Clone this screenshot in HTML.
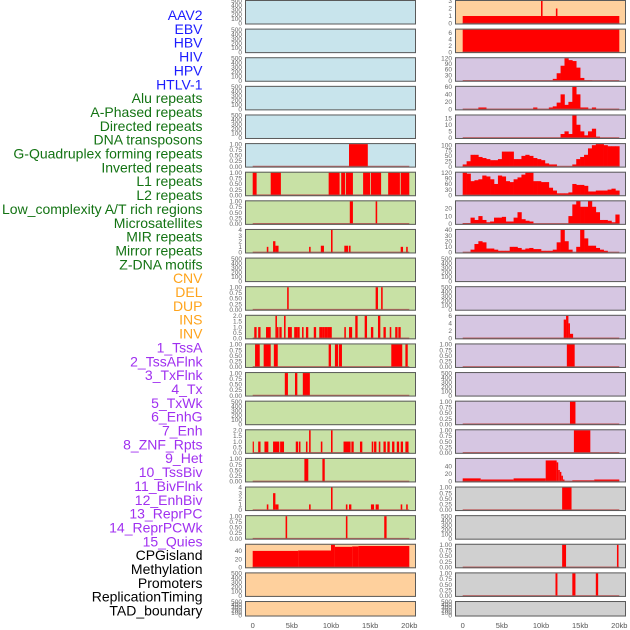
<!DOCTYPE html>
<html><head><meta charset="utf-8"><style>
html,body{margin:0;padding:0;background:#fff;}
svg{display:block;}
</style></head><body>
<svg id="chart" width="630" height="630" xmlns="http://www.w3.org/2000/svg" font-family="Liberation Sans, sans-serif">
<g id="labels"></g>
<g id="panels"></g>
<g id="xaxis"></g>
</svg>
<script>
// ---- labels ----
const trackLabels = ["AAV2","EBV","HBV","HIV","HPV","HTLV-1","Alu repeats","A-Phased repeats","Directed repeats","DNA transposons","G-Quadruplex forming repeats","Inverted repeats","L1 repeats","L2 repeats","Low_complexity A/T rich regions","Microsatellites","MIR repeats","Mirror repeats","Z-DNA motifs","CNV","DEL","DUP","INS","INV","1_TssA","2_TssAFlnk","3_TxFlnk","4_Tx","5_TxWk","6_EnhG","7_Enh","8_ZNF_Rpts","9_Het","10_TssBiv","11_BivFlnk","12_EnhBiv","13_ReprPC","14_ReprPCWk","15_Quies","CPGisland","Methylation","Promoters","ReplicationTiming","TAD_boundary"];
const labelGroupSizes = [6,13,5,15,5];
const labelGroupColors = ["#1c1cff","#137313","#ffa41c","#a030f0","#000000"];
const xTickValues = [0,5,10,15,20];
const xTickLabels = ["0","5kb","10kb","15kb","20kb"];

// ---- series (segments: [startKb, endKb, value]; bins: 0.5kb width) ----
const L5_segs = [[12.3,14.7,1]];
const L6_segs = [[0,0.5,1],[2.3,3.6,1],[9.7,11.1,1],[11.3,11.8,1],[11.9,12.8,1],[14.1,15.0,1],[15.1,16.4,1],[17.3,18.8,1],[18.9,20,1]];
const L7_segs = [[12.4,12.8,1],[15.7,15.9,1]];
const L8_segs = [[1.8,2.0,1],[2.6,2.9,2],[2.9,3.3,1.2],[7.2,7.4,1],[8.7,9.1,1.2],[10.0,10.2,4],[11.7,12.2,1.2],[12.3,12.5,1.2],[18.9,19.2,1],[19.6,19.8,1]];
const L10_segs = [[4.4,4.6,1],[15.7,16.0,1],[16.4,16.6,1]];
const L11_segs = [[0.2,0.5,1],[0.7,1.0,1],[1.7,2.3,1],[2.9,3.1,2],[3.1,3.3,1],[3.4,3.7,1],[4.0,4.2,2],[4.5,5.0,1],[5.3,5.7,1],[5.7,6.0,1],[6.3,6.5,1],[6.8,7.1,1],[7.8,8.1,1],[8.5,8.9,1],[8.9,9.2,1],[9.2,9.5,1],[9.5,10.1,1],[11.7,11.9,1],[12.3,12.7,1],[13.1,13.4,2],[14.3,14.6,2],[15.1,15.4,1],[16.0,16.3,2],[16.7,17.0,1],[17.5,17.7,1],[18.2,18.5,1],[18.6,18.9,1]];
const L12_segs = [[0.3,0.9,1],[1.4,2.3,1],[2.7,3.2,1],[9.7,10.0,1],[10.5,10.9,1],[11.0,11.4,1],[17.7,19.1,1],[19.5,19.8,1]];
const L13_segs = [[4.1,4.5,1],[5.4,5.7,1],[6.4,7.3,1]];
const L15_segs = [[0,0.1,1],[0.7,1.0,1],[1.5,2.0,1],[2.6,3.4,1],[3.5,4.0,1],[5.5,5.8,1],[5.9,6.1,1],[6.8,7.0,1],[7.2,7.4,2],[8.7,8.9,1],[10.0,10.2,2],[11.6,12.5,1],[12.6,12.9,1],[13.7,14.0,1],[15.2,15.4,1],[15.5,15.8,1],[16.1,16.3,1],[16.7,17.0,1],[17.2,17.5,1],[17.8,18.1,1],[18.4,18.7,1],[18.9,19.2,1],[19.5,19.9,1]];
const L16_segs = [[6.6,7.1,1],[8.9,9.2,1]];
const L17_segs = [[1.8,2.0,1],[2.6,2.9,3],[2.9,3.3,1],[7.2,7.4,1],[10.0,10.2,4],[11.9,12.1,1],[12.3,12.6,1],[15.1,15.5,1],[15.7,16.1,1],[18.9,19.1,1],[19.6,19.8,1]];
const L18_segs = [[4.2,4.4,1],[11.9,12.1,1],[16.8,17.1,1]];
const L19_segs = [[0,5.8,40],[5.8,10.0,41],[10.0,10.5,55],[10.5,12.7,50],[12.7,13.5,51],[13.5,20,52]];

const R0_segs = [[0,20,1],[10.0,10.2,3],[11.9,12.1,2]];
const R1_segs = [[0,20,7]];
const R2_bins = [0,0,0,0,0,0,0,0,0,0,0,0,0,0,0,0,0,0,0,0,0,0,0,10,40,80,120,110,105,70,15,3,3,0,0,0,0,0,0,0];
const R3_bins = [0,0,0,0,5,5,0,0,0,0,0,0,0,0,0,0,0,0,5,0,0,0,5,8,18,40,12,20,60,40,5,5,0,5,0,0,0,0,0,0];
const R4_bins = [0,0,0,0,0,0,0,0,0,0,0,0,0,0,0,0,0,0,0,0,0,0,0,0,0,3,5,3,17,10,5,2,5,7,1,0,0,0,0,0];
const R5_bins = [10,25,55,55,45,40,35,30,30,35,70,70,70,35,35,50,55,50,40,35,30,15,10,10,0,0,0,0,10,35,45,55,85,100,105,105,100,95,95,95];
const R6_bins = [120,115,75,80,85,105,100,85,60,105,100,75,70,85,95,110,120,120,75,75,70,70,40,25,10,10,10,15,60,55,55,50,20,20,25,25,25,30,35,25];
const R7_bins = [1,1,8,5,10,5,2,3,8,8,9,3,3,8,15,6,4,3,0,0,0,0,0,0,0,0,0,10,25,30,22,22,30,22,15,5,5,4,2,12];
const R8_bins = [0,0,5,15,20,18,7,7,5,3,3,3,10,10,8,5,7,8,6,6,3,3,3,5,18,40,20,5,0,10,40,25,12,12,8,5,3,0,0,0];
const R11_segs = [[12.9,13.2,5],[13.2,13.5,6],[13.5,13.7,4],[13.7,14.1,1.2]];
const R12_segs = [[13.3,14.3,1]];
const R14_segs = [[13.7,14.4,1]];
const R15_segs = [[14.2,16.3,1]];
const R16_segs = [[0,2.3,8],[2.3,6.5,5],[6.5,10.6,8],[10.6,12.0,55],[12.0,12.2,50],[12.2,12.4,30],[12.4,12.6,25],[12.6,12.8,15],[12.8,13.0,5],[14.0,16.8,3],[16.8,20,5]];
const R17_segs = [[12.7,13.9,1]];
const R19_segs = [[12.7,13.2,1],[19.7,19.9,1]];
const R20_segs = [[11.85,12.1,1],[14.0,14.4,1],[17.0,17.3,1]];

const T_empty = ["0","100","200","300","400","500"];
const T_unit = ["0.00","0.25","0.50","0.75","1.00"];
const T_two = ["0.0","0.5","1.0","1.5","2.0"];
const T_four = ["0","1","2","3","4"];

// panel configs: col, row, fill colour, ticks, ymax, data
const C_BLUE="#c8e4ec", C_GREEN="#c8e1a5", C_ORANGE="#fed09d", C_PURPLE="#d6c6e2", C_GREY="#d0d0d0";
const panelList = [];
for (let r=0;r<22;r++){
  const c = r<6?C_BLUE:(r<19?C_GREEN:C_ORANGE);
  panelList.push({col:0,row:r,fill:c,ticks:T_empty,ymax:500,segs:null,bins:null});
}
for (let r=0;r<22;r++){
  const c = r<2?C_ORANGE:(r<17?C_PURPLE:C_GREY);
  panelList.push({col:1,row:r,fill:c,ticks:T_empty,ymax:500,segs:null,bins:null});
}
function setP(col,row,ticks,ymax,segs,bins){
  const p = panelList[col*22+row];
  p.ticks=ticks; p.ymax=ymax; p.segs=segs||null; p.bins=bins||null;
}
setP(0,5,T_unit,1,L5_segs);
setP(0,6,T_unit,1,L6_segs);
setP(0,7,T_unit,1,L7_segs);
setP(0,8,T_four,4,L8_segs);
setP(0,10,T_unit,1,L10_segs);
setP(0,11,T_two,2,L11_segs);
setP(0,12,T_unit,1,L12_segs);
setP(0,13,T_unit,1,L13_segs);
setP(0,15,T_two,2,L15_segs);
setP(0,16,T_unit,1,L16_segs);
setP(0,17,T_four,4,L17_segs);
setP(0,18,T_unit,1,L18_segs);
setP(0,19,["0","20","40"],55,L19_segs);
setP(1,0,["0","1","2","3"],3,R0_segs);
setP(1,1,["0","2","4","6"],7,R1_segs);
setP(1,2,["0","30","60","90","120"],120,null,R2_bins);
setP(1,3,["0","20","40","60"],60,null,R3_bins);
setP(1,4,["0","5","10","15"],17,null,R4_bins);
setP(1,5,["0","25","50","75","100"],105,null,R5_bins);
setP(1,6,["0","30","60","90","120"],120,null,R6_bins);
setP(1,7,["0","10","20"],29,null,R7_bins);
setP(1,8,["0","10","20","30","40"],40,null,R8_bins);
setP(1,11,["0","2","4","6"],6,R11_segs);
setP(1,12,T_unit,1,R12_segs);
setP(1,14,T_unit,1,R14_segs);
setP(1,15,T_unit,1,R15_segs);
setP(1,16,["0","20","40"],59,R16_segs);
setP(1,17,T_unit,1,R17_segs);
setP(1,19,T_unit,1,R19_segs);
setP(1,20,T_unit,1,R20_segs);

const NS="http://www.w3.org/2000/svg";
function mk(tag,attrs,parent){const e=document.createElementNS(NS,tag);for(const k in attrs)e.setAttribute(k,attrs[k]);parent.appendChild(e);return e;}

// labels
const gl=document.getElementById('labels');
let idx=0;
labelGroupSizes.forEach((n,g)=>{
  for(let i=0;i<n;i++){
    const t=mk('text',{x:202.5,y:(20+idx*13.85).toFixed(2),'text-anchor':'end','font-size':14,fill:labelGroupColors[g]},gl);
    t.textContent=trackLabels[idx];
    
    
    idx++;
  }
});

// panels
const gp=document.getElementById('panels');
function xk(col,kb){return (col?462.7:252.7)+kb*7.83;}
panelList.forEach(p=>{
  const x0=p.col?455:245, w=171;
  const top=p.row*28.62, h=p.row===21?15.5:24.5;
  const yv=v=>top+h-1-v/p.ymax*(h-2);
  const g=mk('g',{},gp);
  
  
  const bg=mk('rect',{x:x0,y:top,width:w,height:h,fill:p.fill},g);
  
  
  const hasData=p.segs||p.bins;
  if(p.segs){p.segs.forEach(s=>{
    const a=xk(p.col,s[0]),b=xk(p.col,s[1]);
    const r=mk('rect',{x:a,y:yv(s[2]),width:Math.max(b-a,1.2),height:yv(0)-yv(s[2]),fill:'#ff0000'},g);
    
    
  });}
  if(p.bins){p.bins.forEach((v,i)=>{
    if(v<=0)return;
    const a=xk(p.col,i*0.5),b=xk(p.col,(i+1)*0.5);
    const r=mk('rect',{x:a,y:yv(v),width:b-a+0.3,height:yv(0)-yv(v),fill:'#ff0000'},g);
    
    
  });}
  if(hasData){
    const ln=mk('line',{x1:xk(p.col,0),x2:xk(p.col,20),y1:yv(0),y2:yv(0),stroke:'#b84848','stroke-width':1.6,'stroke-opacity':0.8},g);
    
    
  }
  const bd=mk('rect',{x:x0+0.5,y:top+0.5,width:w-1,height:h-1,fill:'none',stroke:'#5a5a5a','stroke-width':1},g);
  
  
  const n=p.ticks.length;
  const tmax=parseFloat(p.ticks[n-1]);
  p.ticks.forEach(tl=>{
    const v=parseFloat(tl);
    let yy=p.ymax===500?(top+h-1-v/500*(h-2)):yv(v);
    const t=mk('text',{x:x0-3,y:(yy+2.2).toFixed(2),'text-anchor':'end','font-size':6.5,fill:'#666'},g);
    t.textContent=tl;
    
    
  });
});

// x axes
const gx=document.getElementById('xaxis');
[0,1].forEach(col=>{
  xTickValues.forEach((v,i)=>{
    const t=mk('text',{x:xk(col,v),y:628,'text-anchor':'middle','font-size':7.5,fill:'#555'},gx);
    t.textContent=xTickLabels[i];
    
    
  });
});
</script>
</body></html>
